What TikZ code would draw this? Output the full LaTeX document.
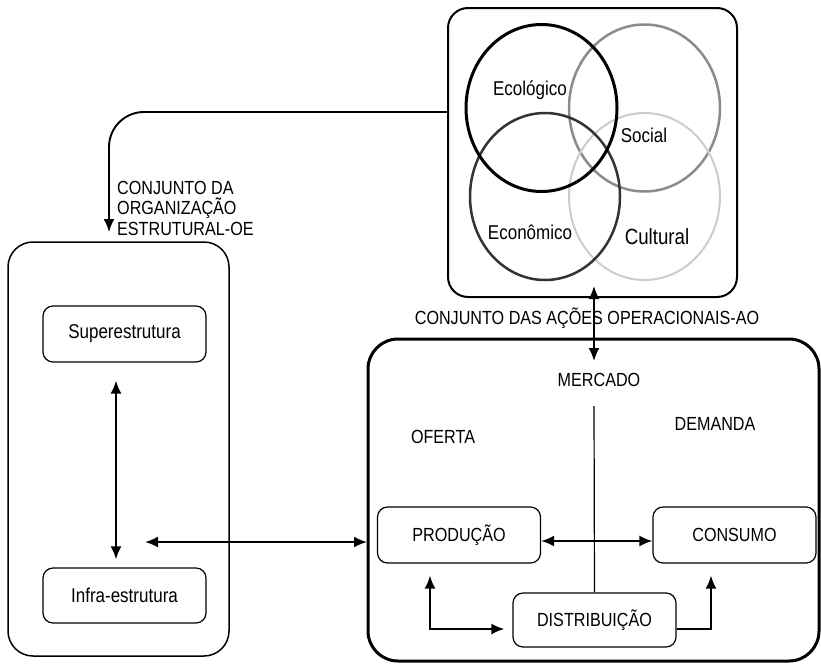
\documentclass[tikz,border=0pt]{standalone}
\usepackage{fontspec}
\setmainfont{Liberation Sans}[FakeStretch=0.85]
\usepackage{tikz}
\usetikzlibrary{arrows.meta,positioning,calc}
\tikzstyle{line} = [draw, line width=1.9pt, -{Latex[length=13pt,width=11pt]}]
\tikzstyle{dline} = [line, {Latex[length=13pt,width=11pt]}-{Latex[length=13pt,width=11pt]}]
\tikzstyle{block} = [draw, rounded corners=10pt, line width=1.2pt, minimum width=163pt, minimum height=56pt, inner sep=0pt, font=\fontsize{19}{22}\selectfont]
\tikzstyle{caps} = [inner sep=0pt, font=\fontsize{19}{20.5}\selectfont]
\tikzstyle{venn} = [inner sep=0pt, font=\fontsize{20}{22}\selectfont]

\begin{document}
\begin{tikzpicture}[x=1pt, y=-1pt]
    \useasboundingbox (0,0) rectangle (821,664);

    % dimensoes
    \node [draw, rounded corners=20pt, line width=2pt, minimum width=289pt, minimum height=289pt] (dims) at (592.5,152.5) {};
    \draw [line width=2.5pt, black!45] (644.5,108) ellipse [x radius=75.5pt, y radius=83.5pt];
    \draw [line width=2pt, black!20] (644.5,196.5) ellipse [x radius=75.5pt, y radius=83.5pt];
    \draw [line width=2.5pt, black!80] (545,196.5) ellipse [x radius=75pt, y radius=83.5pt];
    \draw [line width=3pt] (541.5,108) ellipse [x radius=75.5pt, y radius=83.5pt];
    \node [venn] (ecol) at (530,90) {Ecológico};
    \node [venn] (soc) at (644,135) {Social};
    \node [venn] (econ) at (530,232) {Econômico};
    \node [venn, font=\fontsize{22}{24}\selectfont] (cult) at (657,237) {Cultural};

    % organizacao estrutural
    \node [draw, rounded corners=25pt, line width=1.5pt, minimum width=221pt, minimum height=414pt] (oe) at (118.5,449) {};
    \node [block, font=\fontsize{20}{22}\selectfont] (super) at (124.5,334) {Superestrutura};
    \node [block, font=\fontsize{20}{22}\selectfont, minimum height=55pt] (infra) at (124.5,595.5) {Infra-estrutura};
    \node [caps, anchor=west, align=left] (oelabel) at (117,208) {CONJUNTO DA\\ORGANIZAÇÃO\\ESTRUTURAL-OE};

    % acoes operacionais
    \node [draw, rounded corners=30pt, line width=3pt, minimum width=451pt, minimum height=322pt] (ao) at (593.5,500) {};
    \node [caps] (aolabel) at (587,318) {CONJUNTO DAS AÇÕES OPERACIONAIS-AO};
    \node [caps] (merc) at (599,380) {MERCADO};
    \node [caps] (ofer) at (443,437) {OFERTA};
    \node [caps] (dem) at (715,424) {DEMANDA};
    \node [block] (prod) at (459,535) {PRODUÇÃO};
    \node [block] (cons) at (734.5,535) {CONSUMO};
    \node [block, minimum height=54pt] (dist) at (594.5,620) {DISTRIBUIÇÃO};

    \coordinate (oeout) at (448,112);
    \coordinate (oetip) at (109,232);
    \coordinate (oelink) at (145,542);
    \coordinate (aolink) at (367,542);
    \coordinate (aotop) at (594,286);
    \coordinate (aobot) at (594,361);
    \coordinate (mercline) at (594,406);

    \path [line, rounded corners=35pt] (oeout) -- (oetip |- oeout) -- (oetip);
    \path [dline] (aotop) -- (aobot);
    \draw [line width=1.2pt] (mercline) -- (dist.north);
    \path [dline, shorten <=18pt, shorten >=8pt] ([xshift=-8.5pt]super.south) -- ([xshift=-8.5pt]infra.north);
    \path [dline] (oelink) -- (aolink);
    \path [dline] ([yshift=-6pt]prod.east) -- ([yshift=-6pt]cons.west);
    \path [dline] ([xshift=-29pt, yshift=-12pt]prod.south) |- ([xshift=-8pt, yshift=-9pt]dist.west);
    \path [line] ([yshift=-9pt]dist.east) -| ([xshift=-23.5pt, yshift=-12pt]cons.south);
\end{tikzpicture}
\end{document}
